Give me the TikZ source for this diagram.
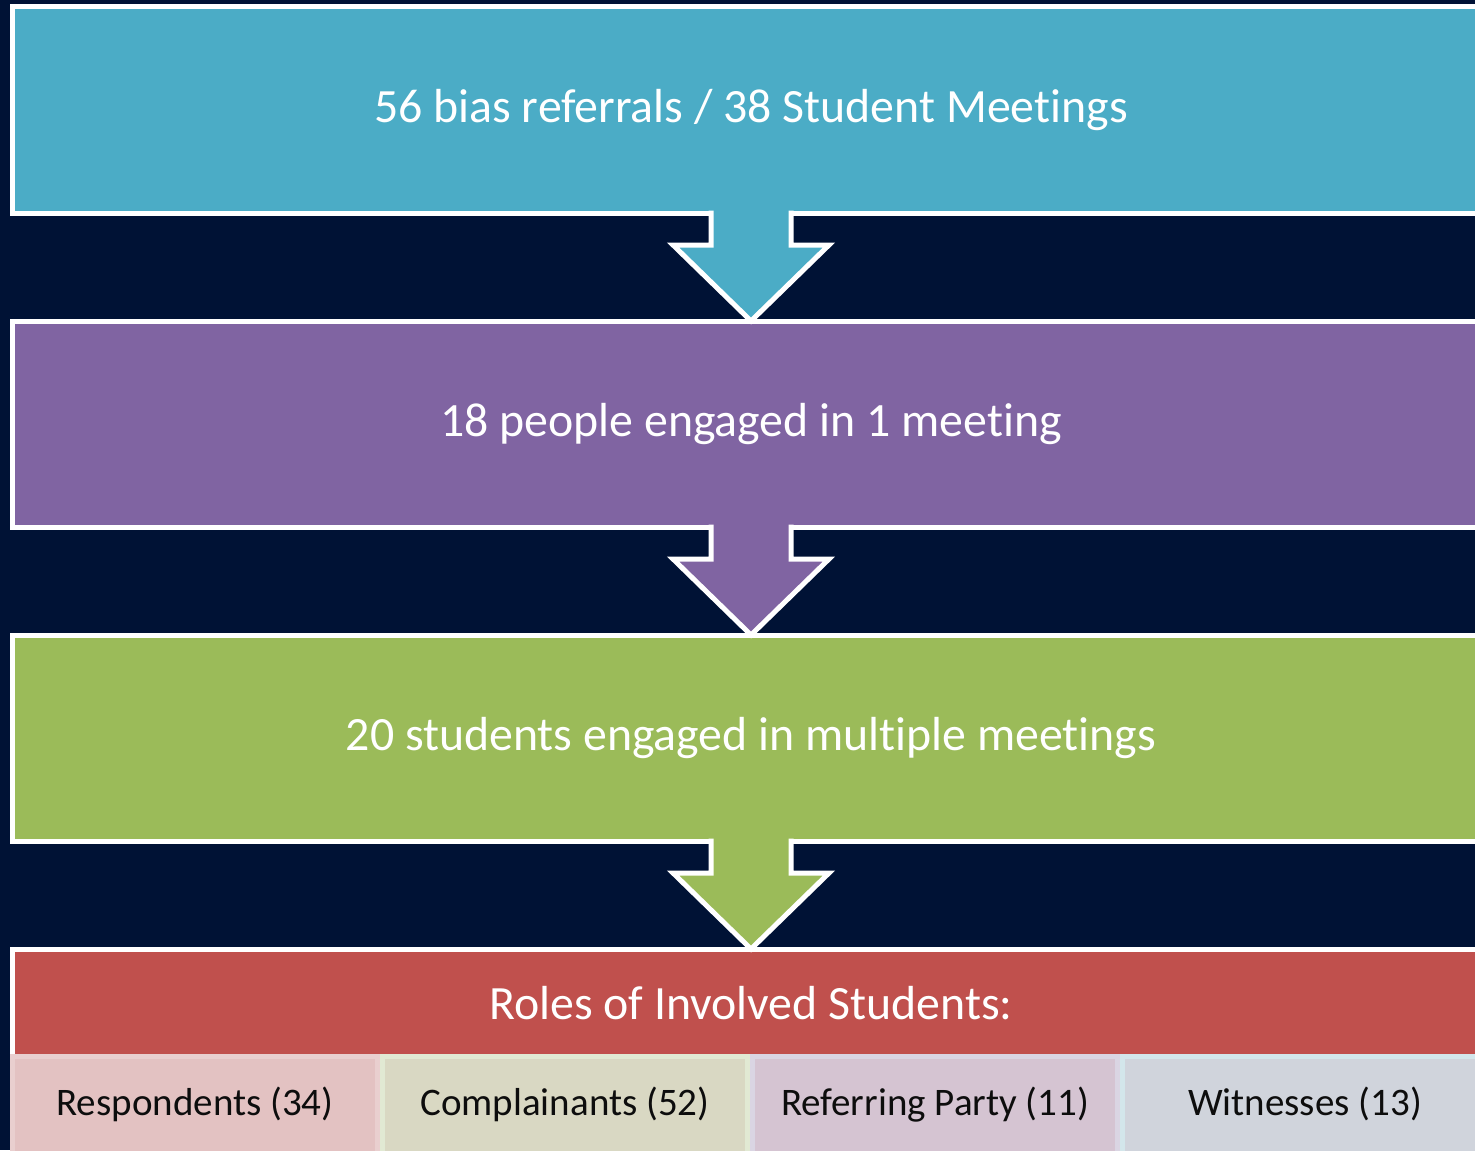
\documentclass[tikz,border=0pt]{standalone}
\usepackage{fontspec}
\setmainfont[Ligatures={NoCommon}]{Carlito}
\usetikzlibrary{calc}
\definecolor{navy}{HTML}{001235}
\definecolor{cteal}{HTML}{4BACC6}
\definecolor{cpurple}{HTML}{8064A2}
\definecolor{cgreen}{HTML}{9BBB59}
\definecolor{cred}{HTML}{C0504D}
\definecolor{fillA}{HTML}{E3C2C2}
\definecolor{lineA}{HTML}{E9CFCF}
\definecolor{fillB}{HTML}{D9D8C3}
\definecolor{lineB}{HTML}{E1E9D3}
\definecolor{fillC}{HTML}{D5C4D2}
\definecolor{lineC}{HTML}{DAD5E3}
\definecolor{fillD}{HTML}{D0D4DC}
\definecolor{lineD}{HTML}{D3E6EB}
\tikzset{
  stagebox/.style={draw=white, line width=2.5pt, minimum width=739pt, minimum height=103pt,
    anchor=north west, inner sep=0pt, outer sep=0pt, text=white,
    font=\fontsize{23.9}{28}\selectfont},
  rolecell/.style={line width=2.5pt, minimum width=182.5pt, minimum height=60pt,
    anchor=north west, inner sep=0pt, outer sep=0pt},
  celltext/.style={text=black!95, font=\fontsize{19.5}{23}\selectfont, anchor=base, inner sep=0pt},
  rolestext/.style={text=white, font=\fontsize{23.9}{28}\selectfont, anchor=base, inner sep=0pt},
  arrowline/.style={draw=white, line width=2.5pt}
}
\begin{document}
\begin{tikzpicture}[x=0.5pt,y=-0.5pt]
\useasboundingbox (0,0) rectangle (1475,1150);
\fill[navy] (0,0) rectangle (1475,1150);
\begin{scope}
\clip (0,0) rectangle (1475,1150);
\node[stagebox, fill=cteal] (b1) at (12,7) {56 bias referrals / 38 Student Meetings};
\node[stagebox, fill=cpurple] (b2) at (12,321) {18 people engaged in 1 meeting};
\node[stagebox, fill=cgreen] (b3) at (12,635) {20 students engaged in multiple meetings};
\node[stagebox, fill=cred, minimum height=108pt] (b4) at (12,949) {};
\node[rolestext] (roles) at ($(b4.north)+(0,70)$) {Roles of Involved Students:};
\node[rolecell, fill=fillA, draw=lineA] (c1) at (12.5,1056.5) {};
\node[rolecell, fill=fillB, draw=lineB] (c2) at (382.5,1056.5) {};
\node[rolecell, fill=fillC, draw=lineC] (c3) at (752.5,1056.5) {};
\node[rolecell, fill=fillD, draw=lineD] (c4) at (1122.5,1056.5) {};
\node[celltext] (t1) at ($(c1.north)+(0,58.5)$) {Respondents (34)};
\node[celltext] (t2) at ($(c2.north)+(0,58.5)$) {Complainants (52)};
\node[celltext] (t3) at ($(c3.north)+(0,58.5)$) {Referring Party (11)};
\node[celltext] (t4) at ($(c4.north)+(0,58.5)$) {Witnesses (13)};
\foreach \a/\b/\c in {b1/b2/cteal, b2/b3/cpurple, b3/b4/cgreen}{
  \fill[\c] ($(\a.south)+(-40,-2.5)$) -- ($(\a.south)+(-40,32)$) -- ($(\a.south)+(-78,32)$)
    -- (\b.north) -- ($(\a.south)+(78,32)$) -- ($(\a.south)+(40,32)$) -- ($(\a.south)+(40,-2.5)$) -- cycle;
  \draw[arrowline] ($(\a.south)+(-40,-2.5)$) -- ($(\a.south)+(-40,32)$) -- ($(\a.south)+(-78,32)$)
    -- (\b.north) -- ($(\a.south)+(78,32)$) -- ($(\a.south)+(40,32)$) -- ($(\a.south)+(40,-2.5)$);
}
\end{scope}
\end{tikzpicture}
\end{document}
